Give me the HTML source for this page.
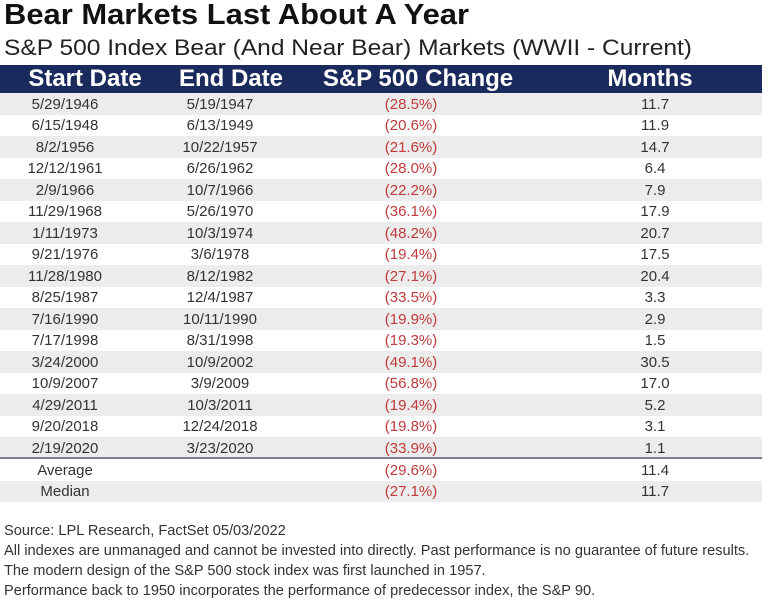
<!DOCTYPE html>
<html><head><style>
body{margin:0;width:768px;height:602px;background:#fff;font-family:"Liberation Sans",Arial,sans-serif;position:relative;overflow:hidden}
.t{position:absolute;white-space:nowrap}
.c{position:absolute;transform:translateX(-50%);white-space:nowrap}
.row{position:absolute;left:0;width:762px;height:21.5px}
.r{color:#c0393b}
</style></head><body>
<div class="t" style="left:4px;top:-1px;font-size:29px;font-weight:bold;color:#111;transform:scaleX(1.066);transform-origin:left">Bear Markets Last About A Year</div>
<div class="t" style="left:4px;top:35px;font-size:22px;color:#222;transform:scaleX(1.115);transform-origin:left">S&amp;P 500 Index Bear (And Near Bear) Markets (WWII - Current)</div>
<div style="position:absolute;left:0;top:65px;width:762px;height:28px;background:#1b2a5c"></div>
<div class="c" style="left:85px;top:65px;font-size:24px;font-weight:bold;color:#fff">Start Date</div>
<div class="c" style="left:231px;top:65px;font-size:24px;font-weight:bold;color:#fff">End Date</div>
<div class="c" style="left:418px;top:65px;font-size:24px;font-weight:bold;color:#fff">S&amp;P 500 Change</div>
<div class="c" style="left:650px;top:65px;font-size:24px;font-weight:bold;color:#fff">Months</div>
<div id="rows"></div>
<div style="position:absolute;left:0;top:457px;width:762px;height:2px;background:#7a8299"></div>
<div class="t" style="left:4px;top:521px;font-size:14.6px;color:#333;line-height:20px">Source: LPL Research, FactSet 05/03/2022<br>All indexes are unmanaged and cannot be invested into directly. Past performance is no guarantee of future results.<br>The modern design of the S&amp;P 500 stock index was first launched in 1957.<br>Performance back to 1950 incorporates the performance of predecessor index, the S&amp;P 90.</div>
<script>
var d=[["5/29/1946","5/19/1947","(28.5%)","11.7"],["6/15/1948","6/13/1949","(20.6%)","11.9"],["8/2/1956","10/22/1957","(21.6%)","14.7"],["12/12/1961","6/26/1962","(28.0%)","6.4"],["2/9/1966","10/7/1966","(22.2%)","7.9"],["11/29/1968","5/26/1970","(36.1%)","17.9"],["1/11/1973","10/3/1974","(48.2%)","20.7"],["9/21/1976","3/6/1978","(19.4%)","17.5"],["11/28/1980","8/12/1982","(27.1%)","20.4"],["8/25/1987","12/4/1987","(33.5%)","3.3"],["7/16/1990","10/11/1990","(19.9%)","2.9"],["7/17/1998","8/31/1998","(19.3%)","1.5"],["3/24/2000","10/9/2002","(49.1%)","30.5"],["10/9/2007","3/9/2009","(56.8%)","17.0"],["4/29/2011","10/3/2011","(19.4%)","5.2"],["9/20/2018","12/24/2018","(19.8%)","3.1"],["2/19/2020","3/23/2020","(33.9%)","1.1"],["Average","","(29.6%)","11.4"],["Median","","(27.1%)","11.7"]];
var h="";
for(var i=0;i<d.length;i++){var y=i<17?93+i*21.5:459+(i-17)*21.5;
var bg=(i<17?i%2==0:i==18)?"#ececec":"#fff";
h+='<div class="row" style="top:'+y+'px;background:'+bg+';border-bottom:1px solid #fff"></div>';
var ty=y+2.5,fs='font-size:15px;color:#333;';
h+='<div class="c" style="'+fs+'left:65px;top:'+ty+'px">'+d[i][0]+'</div>';
h+='<div class="c" style="'+fs+'left:220px;top:'+ty+'px">'+d[i][1]+'</div>';
h+='<div class="c r" style="font-size:15px;left:411px;top:'+ty+'px">'+d[i][2]+'</div>';
h+='<div class="c" style="'+fs+'left:655px;top:'+ty+'px">'+d[i][3]+'</div>';}
document.getElementById("rows").innerHTML=h;
</script>
</body></html>
